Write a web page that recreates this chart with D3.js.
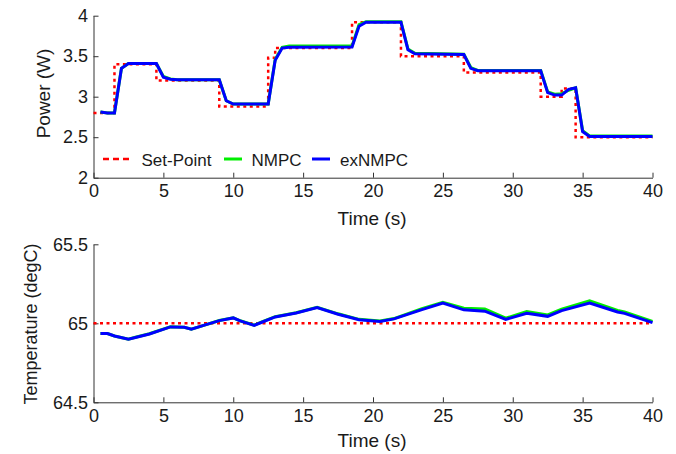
<!DOCTYPE html>
<html>
<head>
<meta charset="utf-8">
<script src="https://cdn.jsdelivr.net/npm/d3@7"></script>
<style>
  html, body { margin: 0; padding: 0; background: #fff; }
  svg { display: block; }
  text { font-family: "Liberation Sans", Arial, Helvetica, sans-serif; fill: #1a1a1a; }
</style>
</head>
<body>
<svg id="chart" width="676" height="454"></svg>
<script>
// ---------- DATA ----------
const timeTicks = [0, 5, 10, 15, 20, 25, 30, 35, 40];
const powerTicks = [2, 2.5, 3, 3.5, 4];
const tempTicks = [64.5, 65, 65.5];

// Power set-point (step changes: value holds from this time on)
const spTime  = [0, 1.5, 4.5, 9, 12.5, 13, 18.5, 22, 26.5, 32, 33.5, 34.5, 40];
const spPower = [2.8, 3.4, 3.2, 2.88, 3.48, 3.6, 3.92, 3.5, 3.3, 3.0, 3.1, 2.5, 2.5];

// Power responses
const pTime   = [0.5, 1, 1.5, 2, 2.5, 4.5, 5, 5.5, 6, 9, 9.5, 10, 12.5, 13, 13.5, 14, 18.5, 19, 19.5, 22, 22.5, 23, 26.5, 27, 27.5, 32, 32.5, 33, 33.5, 34, 34.5, 35, 35.5, 40];
const pNMPC   = [2.81, 2.80, 2.80, 3.35, 3.41, 3.41, 3.25, 3.22, 3.21, 3.21, 2.95, 2.91, 2.91, 3.46, 3.61, 3.625, 3.625, 3.89, 3.925, 3.925, 3.59, 3.535, 3.525, 3.36, 3.325, 3.325, 3.06, 3.03, 3.035, 3.08, 3.11, 2.58, 2.515, 2.515];
const pExNMPC = [2.81, 2.80, 2.80, 3.35, 3.41, 3.41, 3.24, 3.215, 3.21, 3.21, 2.95, 2.91, 2.91, 3.45, 3.60, 3.61, 3.615, 3.87, 3.92, 3.92, 3.58, 3.53, 3.52, 3.35, 3.32, 3.32, 3.05, 3.02, 3.02, 3.09, 3.11, 2.57, 2.51, 2.51];

// Temperature
const spTemp  = [65, 65];
const spTempTime = [0, 40];
const tTime   = [0.5, 1, 1.5, 2.5, 3, 4, 5.5, 6.5, 7, 8, 9, 10, 10.5, 11.5, 12, 13, 14.5, 16, 17.5, 19, 20.5, 21.5, 23.5, 25, 26.5, 28, 29.5, 31, 32.5, 33.5, 35.5, 37.5, 38, 40];
const tNMPC   = [64.935, 64.935, 64.92, 64.9, 64.912, 64.934, 64.978, 64.975, 64.963, 64.99, 65.018, 65.035, 65.016, 64.988, 65.008, 65.042, 65.067, 65.101, 65.06, 65.025, 65.014, 65.03, 65.092, 65.133, 65.095, 65.09, 65.032, 65.075, 65.053, 65.09, 65.142, 65.082, 65.072, 65.012];
const tExNMPC = [64.935, 64.935, 64.92, 64.899, 64.91, 64.932, 64.977, 64.975, 64.962, 64.99, 65.017, 65.034, 65.015, 64.987, 65.005, 65.04, 65.065, 65.099, 65.057, 65.023, 65.012, 65.028, 65.087, 65.128, 65.085, 65.077, 65.025, 65.064, 65.044, 65.08, 65.128, 65.072, 65.063, 65.004];

const legendLabels = ["Set-Point", "NMPC", "exNMPC"];
const colors = { sp: "#ff0000", nmpc: "#00ee00", ex: "#0000ff" };

// ---------- DRAW ----------
const svg = d3.select("#chart");
const axisColor = "#333";

const x = d3.scaleLinear().domain([0, 40]).range([93.5, 652.5]);
const yP = d3.scaleLinear().domain([2, 4]).range([177.7, 15.7]);
const yT = d3.scaleLinear().domain([64.5, 65.5]).range([402.3, 244.3]);

function drawAxes(y, ticks, yBottom, fmt) {
  const gx = svg.append("g").attr("transform", `translate(0,${yBottom})`)
    .call(d3.axisBottom(x).tickValues(timeTicks).tickFormat(d3.format("~g"))
      .tickSizeInner(-5).tickSizeOuter(0).tickPadding(7));
  const gy = svg.append("g").attr("transform", `translate(${x(0)},0)`)
    .call(d3.axisLeft(y).tickValues(ticks).tickFormat(d3.format("~g"))
      .tickSizeInner(-5).tickSizeOuter(0).tickPadding(5.5));
  [gx, gy].forEach(g => {
    g.select(".domain").attr("stroke", axisColor).attr("stroke-width", 1);
    g.selectAll(".tick line").attr("stroke", axisColor).attr("stroke-width", 1);
    g.selectAll(".tick text").attr("fill", "#1a1a1a")
      .style("font-family", '"Liberation Sans", Arial, sans-serif').style("font-size", "18px");
  });
}

drawAxes(yP, powerTicks, yP(2));
drawAxes(yT, tempTicks, yT(64.5));

// Power plot
const spLine = d3.line().x(d => x(d[0])).y(d => yP(d[1])).curve(d3.curveStepAfter);
svg.append("path").datum(spTime.map((t, i) => [t, spPower[i]]))
  .attr("d", spLine).attr("fill", "none").attr("stroke", colors.sp)
  .attr("stroke-width", 2.5).attr("stroke-dasharray", "3,3.5");

const pLine = d3.line().x(d => x(d[0])).y(d => yP(d[1]));
svg.append("path").datum(pTime.map((t, i) => [t, pNMPC[i]]))
  .attr("d", pLine).attr("fill", "none").attr("stroke", colors.nmpc).attr("stroke-width", 3);
svg.append("path").datum(pTime.map((t, i) => [t, pExNMPC[i]]))
  .attr("d", pLine).attr("fill", "none").attr("stroke", colors.ex).attr("stroke-width", 3);

// Temperature plot
const tLine = d3.line().x(d => x(d[0])).y(d => yT(d[1]));
svg.append("path").datum(spTempTime.map((t, i) => [t, spTemp[i]]))
  .attr("d", tLine).attr("fill", "none").attr("stroke", colors.sp)
  .attr("stroke-width", 2.5).attr("stroke-dasharray", "3,3.5");
svg.append("path").datum(tTime.map((t, i) => [t, tNMPC[i]]))
  .attr("d", tLine).attr("fill", "none").attr("stroke", colors.nmpc).attr("stroke-width", 3);
svg.append("path").datum(tTime.map((t, i) => [t, tExNMPC[i]]))
  .attr("d", tLine).attr("fill", "none").attr("stroke", colors.ex).attr("stroke-width", 3);

// Axis labels
svg.append("text").attr("x", 372).attr("y", 225).attr("text-anchor", "middle")
  .style("font-size", "19px").text("Time (s)");
svg.append("text").attr("x", 372).attr("y", 446.5).attr("text-anchor", "middle")
  .style("font-size", "19px").text("Time (s)");
svg.append("text").attr("transform", "translate(50,93.5) rotate(-90)").attr("text-anchor", "middle")
  .style("font-size", "19px").text("Power (W)");
svg.append("text").attr("transform", "translate(36.5,324) rotate(-90)").attr("text-anchor", "middle")
  .style("font-size", "18px").text("Temperature (degC)");

// Legend
const legendItems = [
  { label: legendLabels[0], color: colors.sp, x1: 103, x2: 129, tx: 141.5, dash: "6,4", w: 2.5 },
  { label: legendLabels[1], color: colors.nmpc, x1: 224, x2: 242, tx: 251.5, dash: null, w: 3 },
  { label: legendLabels[2], color: colors.ex, x1: 312, x2: 330, tx: 340, dash: null, w: 3 }
];
const lg = svg.append("g");
legendItems.forEach(it => {
  const l = lg.append("line").attr("x1", it.x1).attr("x2", it.x2).attr("y1", 159).attr("y2", 159)
    .attr("stroke", it.color).attr("stroke-width", it.w);
  if (it.dash) l.attr("stroke-dasharray", it.dash);
  lg.append("text").attr("x", it.tx).attr("y", 165.5).style("font-size", "17px").text(it.label);
});
</script>
</body>
</html>
